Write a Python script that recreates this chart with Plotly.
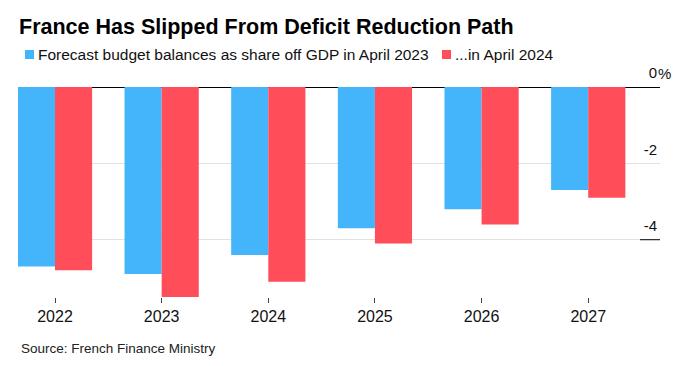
import plotly.graph_objects as go

years = ["2022", "2023", "2024", "2025", "2026", "2027"]
forecast_2023 = [-4.7, -4.9, -4.4, -3.7, -3.2, -2.7]
forecast_2024 = [-4.8, -5.5, -5.1, -4.1, -3.6, -2.9]
series_names = ["Forecast budget balances as share off GDP in April 2023", "...in April 2024"]
y_tickvals = [0, -2, -4]
y_ticktext = ["0", "-2", "-4"]

BLUE = "#45b5fb"
RED = "#ff4d5a"
FONT = "Liberation Sans, Arial, sans-serif"

fig = go.Figure()
fig.add_trace(go.Bar(x=years, y=forecast_2023, name=series_names[0], marker_color=BLUE,
                     marker_line_width=0, showlegend=False))
fig.add_trace(go.Bar(x=years, y=forecast_2024, name=series_names[1], marker_color=RED,
                     marker_line_width=0, showlegend=False))

fig.update_layout(
    width=700, height=366,
    margin=dict(l=18, r=40, t=87, b=69),
    paper_bgcolor="white", plot_bgcolor="white",
    barmode="group", bargap=0.304, bargroupgap=0,
    font=dict(family=FONT, color="#000"),
    title=dict(text="<b>France Has Slipped From Deficit Reduction Path</b>",
               x=19/700, xanchor="left", xref="container",
               y=1-26/366, yanchor="middle", yref="container",
               font=dict(size=21.5, color="#000", family=FONT)),
    xaxis=dict(type="category", range=[-0.347, 5.673], showgrid=False, zeroline=False,
               showline=False, ticks="outside", ticklen=5, tickwidth=1, tickcolor="#444",
               tickfont=dict(size=16, color="#111")),
    yaxis=dict(range=[-5.5, 0], side="right", tickvals=y_tickvals, ticktext=y_ticktext,
               ticklabelposition="inside", ticklabelshift=-14, ticklabelstandoff=0,
               ticklabeloverflow="allow",
               showgrid=True, gridcolor="#e2e2e2", gridwidth=1,
               zeroline=True, zerolinecolor="#000", zerolinewidth=1,
               showline=False, ticks="", tickfont=dict(size=15, color="#111")),
    showlegend=False,
)

# percent sign hanging after the 0 label
fig.add_annotation(text="%", xref="paper", x=1, yref="y", y=0, xanchor="left", yanchor="middle",
                   yshift=14, xshift=-4, showarrow=False, font=dict(size=15, color="#111", family=FONT))

# small dark segment under the -4 label
fig.add_shape(type="line", xref="paper", xsizemode="pixel", xanchor=1, x0=-20, x1=0,
              yref="y", y0=-4, y1=-4, line=dict(color="#000", width=1))

# legend built manually
legend_items = [(series_names[0], BLUE, 7), (series_names[1], RED, 424)]
for name, color, px in legend_items:
    fig.add_shape(type="rect", xref="paper", xsizemode="pixel", xanchor=0, x0=px, x1=px + 9,
                  yref="paper", ysizemode="pixel", yanchor=1, y0=37, y1=28,
                  fillcolor=color, line=dict(width=0))
    fig.add_annotation(text=name, xref="paper", x=0, xshift=px + 11, yref="paper", y=1, yshift=33,
                       xanchor="left", yanchor="middle", showarrow=False,
                       font=dict(size=15.5, color="#111", family=FONT))

fig.add_annotation(text="Source: French Finance Ministry", xref="paper", x=0, xshift=1,
                   yref="paper", y=0, yshift=-51, xanchor="left", yanchor="middle",
                   showarrow=False, font=dict(size=13.5, color="#222", family=FONT))

fig.write_html("out.html", config={"displayModeBar": False},
               post_script="document.body.style.margin='0';")
